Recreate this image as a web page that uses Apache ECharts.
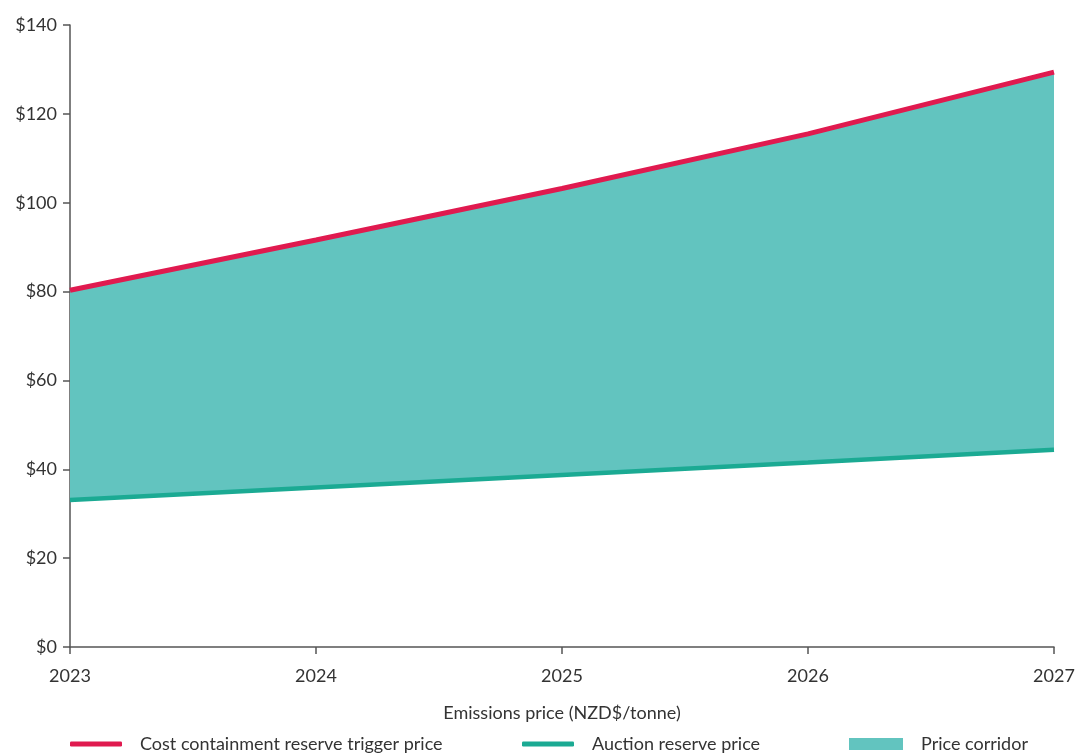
<!DOCTYPE html>
<html>
<head>
<meta charset="utf-8">
<script src="https://cdn.jsdelivr.net/npm/echarts@6/dist/echarts.min.js"></script>
<style>
  html, body { margin: 0; padding: 0; background: #fff; }
  #chart { width: 1078px; height: 754px; }
</style>
</head>
<body>
<div id="chart"></div>
<script>
// Emissions price corridor, 2023–2027
const years = ['2023', '2024', '2025', '2026', '2027'];
const triggerPrice = [80.3, 91.6, 103.2, 115.5, 129.4];   // cost containment reserve trigger
const reservePrice = [33.1, 35.9, 38.7, 41.5, 44.4];      // auction reserve price
const yTicks = [0, 20, 40, 60, 80, 100, 120, 140];

const corridorWidth = triggerPrice.map((v, i) => +(v - reservePrice[i]).toFixed(2));

const RED = '#E01A4F';
const GREEN = '#1BAA93';
const TEAL = '#62C4BF';
const TEXT = '#333333';
const FONT = 'Lato, "Open Sans", sans-serif';

const chart = echarts.init(document.getElementById('chart'), null, { renderer: 'canvas' });

const legendText = { color: TEXT, fontSize: 18, fontFamily: FONT, padding: [0, 0, 0, 13] };

chart.setOption({
  animation: false,
  textStyle: { fontFamily: FONT },
  grid: { left: 70, right: 24, top: 25, bottom: 107, containLabel: false },
  legend: [
    {
      left: 70, top: 735, padding: 0, itemWidth: 52, itemHeight: 5,
      data: [{ name: 'Cost containment reserve trigger price', icon: 'roundRect' }],
      textStyle: legendText
    },
    {
      left: 522, top: 735, padding: 0, itemWidth: 52, itemHeight: 5,
      data: [{ name: 'Auction reserve price', icon: 'roundRect' }],
      textStyle: legendText
    },
    {
      left: 849, top: 735, padding: 0, itemWidth: 54, itemHeight: 12,
      data: [{ name: 'Price corridor', icon: 'rect' }],
      textStyle: legendText
    }
  ],
  xAxis: {
    type: 'category',
    data: years,
    boundaryGap: false,
    name: 'Emissions price (NZD$/tonne)',
    nameLocation: 'middle',
    nameGap: 57,
    nameTextStyle: { color: TEXT, fontSize: 18, fontFamily: FONT },
    axisLine: { lineStyle: { color: '#555', width: 1.5 } },
    axisTick: { show: true, alignWithLabel: true, length: 7, lineStyle: { color: '#555', width: 1.5 } },
    axisLabel: { color: TEXT, fontSize: 18, fontFamily: FONT, margin: 20 },
    splitLine: { show: false }
  },
  yAxis: {
    type: 'value',
    min: 0, max: 140, interval: 20,
    axisLine: { show: true, lineStyle: { color: '#555', width: 1.5 } },
    axisTick: { show: true, length: 7, lineStyle: { color: '#555', width: 1.5 } },
    axisLabel: {
      color: TEXT, fontSize: 18, fontFamily: FONT, margin: 13,
      formatter: v => yTicks.includes(v) ? '$' + v : ''
    },
    splitLine: { show: false }
  },
  series: [
    {
      name: 'base',
      type: 'line',
      stack: 'corridor',
      data: reservePrice,
      symbol: 'none',
      lineStyle: { width: 0, opacity: 0 },
      silent: true,
      z: 1
    },
    {
      name: 'Price corridor',
      type: 'line',
      stack: 'corridor',
      data: corridorWidth,
      symbol: 'none',
      itemStyle: { color: TEAL },
      lineStyle: { width: 0, opacity: 0 },
      areaStyle: { color: TEAL, opacity: 1 },
      z: 1
    },
    {
      name: 'Auction reserve price',
      type: 'line',
      data: reservePrice,
      symbol: 'none',
      itemStyle: { color: GREEN },
      lineStyle: { color: GREEN, width: 4.5 },
      z: 3
    },
    {
      name: 'Cost containment reserve trigger price',
      type: 'line',
      data: triggerPrice,
      symbol: 'none',
      itemStyle: { color: RED },
      lineStyle: { color: RED, width: 5 },
      z: 4
    }
  ]
});
</script>
</body>
</html>
